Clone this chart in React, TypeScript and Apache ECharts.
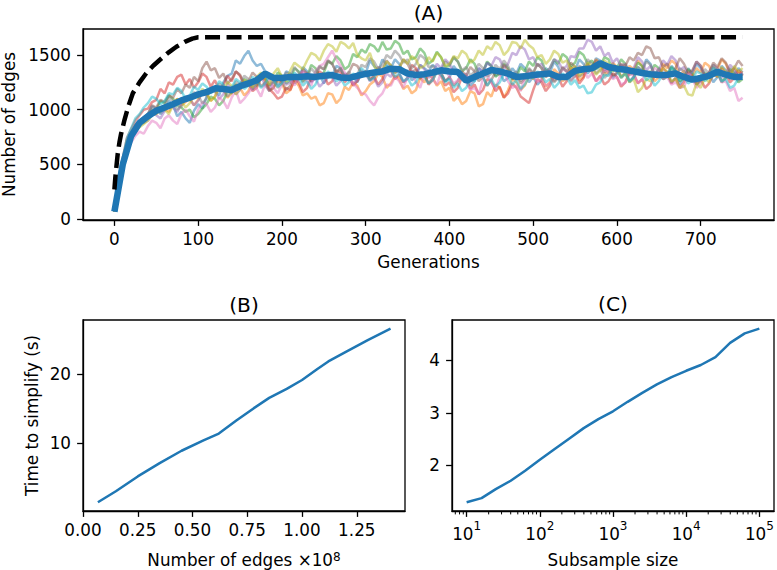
import React, { useEffect, useRef } from "react";
import * as echarts from "echarts";

// ---------- Panel A data ----------
// mean number of edges, one value every 10 generations
const MEAN_EDGES = [67,500,760,880,940,990,1020,1050,1085,1110,1140,1160,1195,1190,1180,1215,1240,1270,1330,1290,1290,1300,1300,1305,1300,1310,1317,1295,1290,1310,1327,1340,1350,1375,1370,1330,1317,1325,1340,1360,1350,1345,1265,1300,1330,1363,1350,1330,1300,1305,1317,1325,1332,1300,1300,1355,1370,1378,1424,1390,1375,1365,1350,1335,1325,1318,1320,1332,1300,1275,1290,1310,1347,1320,1300,1302];

// replicate runs, one value every 5 generations
const REP_0 = [67,330,520,690,740,860,900,910,960,1030, 1010,960,1000,1080,1040,940,980,920,880,990, 1050,1010,1120,1200,1180,1130,1250,1310,1330,1450, 1420,1490,1540,1450,1400,1420,1350,1280,1300,1230, 1260,1350,1330,1240,1280,1390,1350,1260,1290,1320, 1240,1300,1310,1400,1380,1270,1300,1310,1250,1340, 1330,1450,1400,1350,1460,1410,1380,1460,1420,1330, 1360,1270,1300,1410,1380,1350,1410,1380,1330,1260, 1290,1400,1350,1290,1310,1220,1260,1380,1340,1430, 1400,1310,1350,1260,1290,1380,1330,1420,1380,1250, 1300,1230,1270,1380,1340,1440,1390,1280,1320,1390, 1360,1460,1420,1330,1380,1470,1450,1360,1400,1290, 1330,1410,1380,1250,1300,1390,1350,1460,1420,1310, 1370,1280,1310,1400,1360,1230,1290,1380,1330,1420, 1380,1290,1340,1250,1300,1400,1360,1280,1320,1380, 1340];
const REP_1 = [67,300,480,660,770,800,860,900,920,980, 960,1010,1010,980,1060,1100,1040,1070,1100,1040, 1090,1170,1150,1080,1120,1200,1180,1110,1150,1230, 1200,1130,1170,1260,1230,1300,1260,1180,1200,1270, 1240,1150,1180,1270,1220,1130,1150,1100,1120,1040, 1060,1150,1140,1060,1100,1210,1180,1250,1220,1130, 1170,1230,1260,1330,1300,1200,1240,1310,1280,1190, 1220,1150,1180,1290,1250,1320,1290,1220,1260,1170, 1200,1080,1120,1050,1080,1170,1150,1030,1050,1160, 1120,1230,1200,1110,1180,1280,1250,1180,1220,1310, 1280,1340,1300,1210,1250,1370,1330,1260,1290,1390, 1350,1270,1300,1410,1380,1460,1420,1320,1350,1430, 1390,1290,1330,1400,1370,1450,1400,1310,1350,1260, 1300,1420,1380,1450,1420,1310,1360,1260,1300,1380, 1340,1430,1400,1310,1370,1460,1420,1320,1380,1330, 1350];
const REP_2 = [67,340,510,680,750,830,870,880,930,990, 1000,1080,1060,1130,1100,1040,1020,980,1000,930, 960,1010,1050,1120,1100,1040,1080,1170,1150,1230, 1200,1280,1260,1190,1220,1310,1290,1220,1250,1340, 1310,1240,1270,1380,1350,1260,1300,1410,1380,1300, 1340,1440,1420,1490,1450,1370,1400,1510,1480,1550, 1520,1600,1580,1530,1620,1550,1560,1630,1600,1510, 1540,1460,1480,1560,1520,1420,1450,1530,1480,1390, 1400,1480,1440,1350,1380,1460,1420,1320,1350,1440, 1400,1300,1330,1420,1380,1280,1300,1390,1350,1440, 1400,1480,1450,1350,1380,1460,1420,1510,1480,1400, 1430,1530,1500,1420,1450,1370,1400,1480,1460,1360, 1380,1460,1420,1320,1350,1430,1400,1300,1330,1410, 1380,1280,1300,1390,1350,1260,1290,1370,1330,1230, 1260,1340,1300,1390,1350,1260,1290,1370,1330,1250, 1280];
const REP_3 = [67,380,560,740,820,900,950,1000,1010,1070, 1090,1190,1150,1250,1230,1300,1320,1230,1280,1200, 1250,1330,1300,1210,1270,1180,1220,1310,1260,1350, 1310,1220,1250,1170,1200,1290,1280,1190,1150,1100, 1120,1200,1180,1280,1250,1160,1200,1300,1280,1350, 1320,1230,1260,1360,1340,1250,1300,1220,1260,1330, 1350,1280,1300,1230,1280,1390,1360,1280,1320,1250, 1290,1410,1380,1290,1330,1230,1270,1350,1310,1220, 1250,1160,1200,1300,1280,1190,1230,1140,1180,1280, 1260,1170,1210,1110,1150,1240,1200,1120,1090,1060, 1180,1280,1250,1170,1220,1320,1300,1210,1260,1360, 1330,1240,1290,1390,1350,1260,1310,1230,1260,1330, 1300,1210,1250,1340,1330,1240,1280,1190,1220,1320, 1300,1380,1340,1240,1290,1200,1250,1340,1310,1230, 1280,1200,1240,1330,1300,1380,1330,1250,1290,1360, 1310];
const REP_4 = [67,310,490,660,740,790,850,880,900,960, 950,920,990,1040,1020,980,1060,1120,1100,1040, 1080,1160,1130,1200,1170,1100,1140,1230,1200,1140, 1180,1260,1230,1180,1270,1310,1220,1170,1260,1310, 1300,1230,1250,1320,1280,1350,1330,1250,1290,1210, 1250,1340,1300,1220,1260,1330,1310,1230,1280,1360, 1330,1260,1290,1210,1250,1330,1300,1380,1340,1250, 1280,1360,1320,1410,1370,1290,1330,1420,1380,1460, 1420,1340,1360,1300,1330,1250,1290,1380,1350,1430, 1400,1480,1460,1380,1420,1520,1500,1580,1550,1460, 1480,1400,1420,1340,1380,1460,1440,1370,1400,1490, 1480,1560,1560,1640,1620,1540,1580,1490,1520,1430, 1470,1390,1420,1340,1380,1480,1440,1360,1400,1320, 1360,1450,1410,1490,1450,1360,1390,1310,1350,1440, 1400,1310,1340,1410,1380,1290,1330,1410,1370,1300, 1340];
const REP_5 = [67,360,530,720,790,850,900,930,960,1040, 1020,1090,1070,1130,1110,1190,1150,1230,1200,1300, 1260,1380,1440,1360,1380,1290,1330,1240,1280,1350, 1320,1230,1260,1340,1300,1210,1250,1170,1200,1290, 1260,1180,1220,1310,1280,1370,1330,1260,1300,1390, 1370,1450,1420,1340,1380,1300,1340,1420,1400,1330, 1350,1270,1310,1390,1360,1450,1400,1330,1380,1460, 1420,1340,1370,1280,1330,1240,1290,1370,1340,1260, 1300,1220,1260,1350,1310,1390,1350,1260,1300,1220, 1270,1350,1320,1410,1360,1280,1320,1240,1280,1370, 1330,1420,1380,1300,1340,1260,1300,1390,1350,1430, 1390,1300,1330,1420,1370,1450,1420,1340,1380,1310, 1340,1420,1400,1480,1450,1520,1500,1580,1560,1470, 1480,1390,1420,1330,1380,1470,1420,1340,1360,1440, 1400,1310,1340,1430,1390,1470,1430,1340,1380,1450, 1400];
const REP_6 = [67,270,450,620,700,760,800,780,850,900, 880,830,920,950,900,870,960,1000,940,890, 1000,1070,1050,980,1020,1110,1080,1010,1110,1180, 1060,1100,1150,1220,1190,1120,1240,1270,1200,1150, 1230,1300,1280,1220,1310,1350,1260,1220,1350,1400, 1420,1480,1540,1460,1400,1340,1300,1240,1200,1150, 1140,1080,1040,1110,1150,1230,1220,1300,1260,1200, 1300,1340,1250,1200,1320,1360,1280,1230,1340,1380, 1300,1240,1270,1320,1250,1180,1200,1140,1280,1330, 1250,1190,1300,1350,1260,1200,1220,1170,1290,1340, 1330,1250,1280,1220,1240,1300,1300,1370,1350,1270, 1310,1390,1380,1290,1330,1260,1290,1370,1340,1280, 1300,1230,1250,1330,1310,1250,1270,1350,1320,1380, 1360,1280,1300,1230,1250,1200,1210,1300,1280,1200, 1240,1320,1300,1380,1330,1250,1260,1170,1200,1080, 1110];
const REP_7 = [67,350,520,700,770,840,890,920,950,1010, 1000,970,1040,1110,1080,1000,1030,1120,1090,1160, 1130,1060,1100,1190,1160,1240,1200,1120,1170,1260, 1230,1310,1280,1200,1240,1330,1300,1220,1270,1200, 1250,1340,1310,1390,1340,1250,1290,1380,1330,1400, 1370,1450,1420,1340,1380,1300,1350,1280,1320,1410, 1390,1470,1440,1370,1410,1500,1470,1540,1500,1430, 1460,1380,1420,1500,1470,1390,1400,1330,1360,1440, 1410,1480,1440,1360,1390,1310,1350,1420,1380,1300, 1330,1410,1370,1450,1400,1320,1350,1260,1300,1380, 1340,1420,1380,1300,1320,1250,1290,1380,1350,1260, 1310,1400,1380,1460,1420,1330,1370,1290,1330,1420, 1380,1300,1340,1260,1300,1390,1360,1440,1410,1320, 1380,1300,1330,1250,1290,1380,1350,1260,1310,1230, 1280,1370,1330,1410,1340,1250,1290,1380,1340,1260, 1330];
const REP_8 = [67,290,470,640,730,800,840,870,900,950, 960,1010,1000,960,1040,1100,1080,1020,1060,1130, 1110,1190,1150,1080,1120,1210,1180,1250,1220,1140, 1190,1270,1250,1200,1300,1340,1280,1230,1330,1380, 1300,1260,1360,1430,1400,1370,1450,1520,1500,1450, 1540,1600,1580,1530,1620,1600,1560,1610,1500,1470, 1450,1520,1400,1350,1360,1440,1410,1340,1380,1460, 1420,1490,1460,1380,1400,1480,1440,1520,1480,1400, 1420,1490,1470,1540,1510,1430,1460,1540,1500,1580, 1550,1620,1590,1500,1540,1620,1610,1560,1640,1590, 1560,1480,1500,1420,1460,1540,1510,1430,1450,1370, 1400,1310,1350,1430,1400,1320,1360,1450,1420,1350, 1380,1300,1330,1250,1280,1160,1200,1280,1260,1340, 1300,1380,1350,1260,1280,1200,1220,1140,1130,1240, 1200,1290,1250,1340,1300,1390,1350,1300,1400,1350, 1380];
const REP_9 = [67,390,560,740,830,920,960,1020,1060,1120, 1100,1050,1080,1150,1140,1200,1170,1100,1130,1210, 1180,1240,1210,1150,1180,1260,1230,1170,1200,1280, 1250,1190,1220,1300,1270,1200,1240,1310,1280,1210, 1240,1300,1270,1340,1300,1220,1260,1190,1230,1310, 1280,1350,1320,1260,1290,1220,1250,1330,1300,1380, 1340,1270,1290,1360,1330,1400,1370,1300,1330,1260, 1290,1220,1250,1330,1300,1240,1270,1350,1320,1250, 1280,1200,1240,1170,1200,1280,1260,1330,1300,1220, 1280,1210,1250,1330,1310,1230,1270,1190,1230,1300, 1290,1350,1320,1250,1280,1200,1240,1330,1300,1230, 1270,1200,1220,1150,1160,1230,1250,1320,1310,1380, 1360,1290,1330,1260,1290,1370,1340,1270,1300,1220, 1260,1340,1310,1380,1350,1270,1310,1240,1270,1350, 1330,1260,1300,1380,1340,1260,1280,1200,1220,1290, 1300];
const REPLICATES = [REP_0, REP_1, REP_2, REP_3, REP_4, REP_5, REP_6, REP_7, REP_8, REP_9];
const REP_COLORS = ["#1f77b4","#ff7f0e","#2ca02c","#d62728","#9467bd","#8c564b","#e377c2","#7f7f7f","#bcbd22","#17becf"];

// theoretical maximum (dashed)
const BOUND_GENS = [0,1,2,4,6,8,12,17,22,30,38,46,54,64,74,84,93,100,750];
const BOUND_EDGES = [270,370,450,600,700,780,905,1040,1150,1250,1333,1400,1454,1520,1576,1620,1650,1662,1662];

const A_X_TICKS = [0,100,200,300,400,500,600,700];
const A_Y_TICKS = [0,500,1000,1500];

// ---------- Panel B data ----------
const B_EDGES = [0.068,0.15,0.25,0.35,0.45,0.55,0.62,0.70,0.78,0.85,0.93,1.00,1.07,1.12,1.20,1.30,1.404];
const B_TIMES = [1.4,3.0,5.16,7.1,8.9,10.4,11.4,13.3,15.1,16.6,17.9,19.2,20.8,21.9,23.3,25.0,26.67];
const B_X_TICKS = [0,0.25,0.5,0.75,1.0,1.25];
const B_Y_TICKS = [10,20];

// ---------- Panel C data ----------
const C_SIZES = [10,16,25,40,63,100,158,251,398,631,1000,1585,2512,3981,6310,10000,15849,25119,39811,63096,100000];
const C_TIMES = [1.30,1.38,1.55,1.71,1.90,2.11,2.31,2.51,2.71,2.88,3.03,3.21,3.38,3.54,3.68,3.80,3.91,4.06,4.33,4.51,4.60];
const C_X_TICKS = [1,2,3,4,5]; // log10 of 10^1 .. 10^5
const C_Y_TICKS = [2,3,4];
const C_MINOR = [7,8,9,20,30,40,50,60,70,80,90,200,300,400,500,600,700,800,900,2000,3000,4000,5000,6000,7000,8000,9000,20000,30000,40000,50000,60000,70000,80000,90000];

const FONT = "DejaVu Sans";
const FS = 16.8;

export default function App() {
  const ref = useRef<HTMLDivElement>(null);
  useEffect(() => {
    if (!ref.current) return;
    const chart = echarts.init(ref.current, undefined, { renderer: "svg" });
    const gensMean = MEAN_EDGES.map((_, i) => i * 10);
    const gensRep = REP_0.map((_, i) => i * 5);
    const tick = (vals: number[]) => ({ show: true, length: 5.9, customValues: vals, lineStyle: { color: "#000", width: 1.3 } });
    const line = { show: true, onZero: false, lineStyle: { color: "#000", width: 1.3 } };
    const lbl = (vals: number[], margin: number, extra: any = {}) => ({
      show: true, customValues: vals, margin, color: "#000", fontSize: FS, fontFamily: FONT,
      formatter: (v: number) => String(v), ...extra,
    });
    const nameStyle = { color: "#000", fontSize: FS, fontFamily: FONT };

    const series: any[] = [];
    REPLICATES.forEach((rep, k) => {
      series.push({
        type: "line", xAxisIndex: 0, yAxisIndex: 0,
        data: rep.map((v, i) => [gensRep[i], v]),
        showSymbol: false, silent: true,
        lineStyle: { color: REP_COLORS[k], width: 2.5, opacity: 0.5 }, z: 2,
      });
    });
    series.push({
      type: "line", xAxisIndex: 0, yAxisIndex: 0,
      data: MEAN_EDGES.map((v, i) => [gensMean[i], v]),
      showSymbol: false, silent: true, lineStyle: { color: "#1f77b4", width: 6.5 }, z: 3,
    });
    series.push({
      type: "line", xAxisIndex: 0, yAxisIndex: 0,
      data: BOUND_GENS.map((g, i) => [g, BOUND_EDGES[i]]),
      showSymbol: false, silent: true, lineStyle: { color: "#000", width: 4.5, type: [15, 6.5] }, z: 4,
    });
    series.push({
      type: "line", xAxisIndex: 1, yAxisIndex: 1,
      data: B_EDGES.map((x, i) => [x, B_TIMES[i]]),
      showSymbol: false, silent: true, lineStyle: { color: "#1f77b4", width: 2.5 },
    });
    series.push({
      type: "line", xAxisIndex: 2, yAxisIndex: 2,
      data: C_SIZES.map((n, i) => [Math.log10(n), C_TIMES[i]]),
      showSymbol: false, silent: true, lineStyle: { color: "#1f77b4", width: 2.5 },
    });
    // minor log ticks of panel C's x axis, placed through the axis scale
    series.push({
      type: "custom", xAxisIndex: 2, yAxisIndex: 2, silent: true, clip: false,
      data: C_MINOR.map((n) => [Math.log10(n), 1.135]),
      renderItem: (params: any, api: any) => {
        const p = api.coord([api.value(0), api.value(1)]);
        return { type: "line", shape: { x1: p[0], y1: p[1], x2: p[0], y2: p[1] + 3.4 }, style: { stroke: "#000", lineWidth: 1 } };
      },
    });

    const gridBase = { show: true, borderColor: "#000", borderWidth: 1.3, backgroundColor: "transparent", containLabel: false, outerBoundsMode: "none" };

    chart.setOption({
      animation: false,
      backgroundColor: "#fff",
      textStyle: { fontFamily: FONT },
      grid: [
        { ...gridBase, left: 83, top: 29, width: 691, height: 191 },
        { ...gridBase, left: 83, top: 320, width: 322, height: 191 },
        { ...gridBase, left: 452, top: 320, width: 322, height: 191 },
      ],
      xAxis: [
        {
          gridIndex: 0, type: "value", min: -37.5, max: 787.5, position: "bottom",
          axisLine: line, axisTick: tick(A_X_TICKS), axisLabel: lbl(A_X_TICKS, 10),
          splitLine: { show: false },
          name: "Generations", nameLocation: "middle", nameGap: 33, nameTextStyle: nameStyle,
        },
        {
          gridIndex: 1, type: "value", min: 0, max: 1.47, position: "bottom",
          axisLine: line, axisTick: tick(B_X_TICKS),
          axisLabel: lbl(B_X_TICKS, 10, { formatter: (v: number) => v.toFixed(2) }),
          splitLine: { show: false },
          name: "Number of edges ×10{s|8}", nameLocation: "middle", nameGap: 40,
          nameTextStyle: { ...nameStyle, rich: { s: { fontSize: 12, fontFamily: FONT, color: "#000", verticalAlign: "top", lineHeight: 12 } } },
        },
        {
          gridIndex: 2, type: "value", min: 0.8, max: 5.2, position: "bottom",
          axisLine: line, axisTick: tick(C_X_TICKS),
          axisLabel: lbl(C_X_TICKS, 9, {
            formatter: (v: number) => `{b|10}{s|${Math.round(v)}}`,
            rich: {
              b: { fontSize: FS, fontFamily: FONT, color: "#000", verticalAlign: "bottom", lineHeight: 22 },
              s: { fontSize: 12, fontFamily: FONT, color: "#000", verticalAlign: "top", lineHeight: 12 },
            },
          }),
          splitLine: { show: false },
          name: "Subsample size", nameLocation: "middle", nameGap: 40, nameTextStyle: nameStyle,
        },
      ],
      yAxis: [
        {
          gridIndex: 0, type: "value", min: -9, max: 1738,
          axisLine: line, axisTick: tick(A_Y_TICKS), axisLabel: lbl(A_Y_TICKS, 12),
          splitLine: { show: false },
        },
        {
          gridIndex: 1, type: "value", min: 0.13, max: 27.93,
          axisLine: line, axisTick: tick(B_Y_TICKS), axisLabel: lbl(B_Y_TICKS, 12),
          splitLine: { show: false },
          name: "Time to simplify (s)", nameLocation: "middle", nameGap: 43, nameTextStyle: nameStyle,
        },
        {
          gridIndex: 2, type: "value", min: 1.135, max: 4.765,
          axisLine: line, axisTick: tick(C_Y_TICKS), axisLabel: lbl(C_Y_TICKS, 12),
          splitLine: { show: false },
        },
      ],
      graphic: [
        { type: "text", x: 8.5, y: 124.5, rotation: Math.PI / 2, style: { text: "Number of edges", font: `${FS}px '${FONT}'`, fill: "#000", align: "center", verticalAlign: "middle" } },
        { type: "text", x: 428.5, y: 13, style: { text: "(A)", font: `20.2px '${FONT}'`, fill: "#000", align: "center", verticalAlign: "middle" } },
        { type: "text", x: 244, y: 304.5, style: { text: "(B)", font: `20.2px '${FONT}'`, fill: "#000", align: "center", verticalAlign: "middle" } },
        { type: "text", x: 613, y: 304, style: { text: "(C)", font: `20.2px '${FONT}'`, fill: "#000", align: "center", verticalAlign: "middle" } },
      ],
      series,
    });
    return () => chart.dispose();
  }, []);
  return <div ref={ref} style={{ position: "fixed", left: 0, top: 0, width: 777, height: 570, background: "#fff" }} />;
}
